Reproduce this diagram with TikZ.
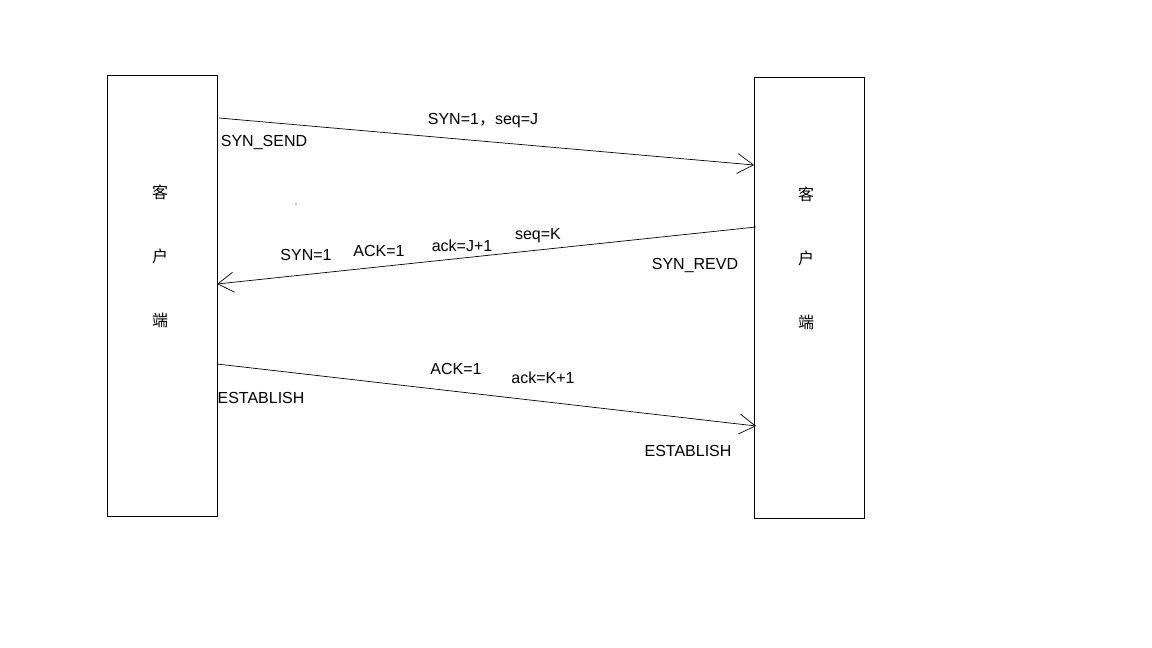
\documentclass[tikz,border=0pt]{standalone}
\usepackage{fontspec}
\setmainfont{Liberation Sans}
\newfontfamily\cjk{Noto Sans CJK SC}
\usetikzlibrary{arrows.meta}
\begin{document}
\begin{tikzpicture}[x=1pt,y=-1pt,
  box/.style={draw,line width=0.8pt,minimum width=110pt,anchor=north west,inner sep=0},
  lab/.style={font=\fontsize{16}{17}\selectfont,inner sep=1pt},
  wlab/.style={lab,fill=white},
  ch/.style={font=\cjk\fontsize{16}{17}\selectfont},
  msg/.style={line width=0.7pt,-{Straight Barb[length=16pt,width=20pt,line width=0.7pt]}}]
\useasboundingbox (0,0) rectangle (1152,648);
\node[box,minimum height=441pt] (L) at (107,75) {};
\node[box,minimum height=441pt] (R) at (754,77) {};
\node[ch] (l1) at (160,192) {客};
\node[ch] (l2) at (160,256) {户};
\node[ch] (l3) at (160,320) {端};
\node[ch] (r1) at (806,194) {客};
\node[ch] (r2) at (806,258) {户};
\node[ch] (r3) at (806,322) {端};
\coordinate (a1) at (219,118); \coordinate (b1) at (754,165);
\coordinate (a2) at (756,227); \coordinate (b2) at (217,284);
\coordinate (a3) at (217,364); \coordinate (b3) at (756,426);
\draw[msg] (a1) -- (b1);
\draw[msg] (a2) -- (b2);
\draw[msg] (a3) -- (b3);
\node[lab] (t1) at (483,121) {SYN=1{\cjk ，}seq=J};
\node[lab] (t2) at (264,143) {SYN\_SEND};
\node[wlab] (t3) at (306,255) {SYN=1};
\node[wlab] (t4) at (379,251) {ACK=1};
\node[wlab] (t5) at (462,246) {ack=J+1};
\node[wlab] (t6) at (538,236) {seq=K};
\node[lab] (t7) at (695,266) {SYN\_REVD};
\node[lab] (t8) at (456,369) {ACK=1};
\node[lab] (t9) at (543,378) {ack=K+1};
\node[lab] (t10) at (261,398) {ESTABLISH};
\node[lab] (t11) at (688,451) {ESTABLISH};
\fill (296,204) circle (0.6pt);
\end{tikzpicture}
\end{document}
